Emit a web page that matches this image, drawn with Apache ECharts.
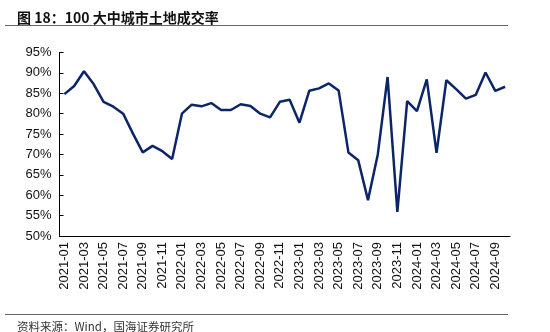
<!DOCTYPE html>
<html>
<head>
<meta charset="utf-8">
<script src="https://cdn.jsdelivr.net/npm/echarts@6/dist/echarts.min.js"></script>
<style>html,body{margin:0;padding:0;background:#fff;}#c{width:550px;height:332px;}</style>
</head>
<body>
<div id="c"></div>
<script>
const months = [];
for (let y = 2021; y <= 2024; y++) {
  for (let m = 1; m <= 12; m++) {
    if (y === 2024 && m > 10) break;
    months.push(y + '-' + (m < 10 ? '0' + m : '' + m));
  }
}
const dealRate = [
  84.8, 86.8, 90.4, 87.2, 82.9, 81.7, 80.0, 75.1, 70.5, 72.1, 70.8, 68.9,
  80.0, 82.2, 81.8, 82.6, 80.9, 80.9, 82.3, 81.9, 80.0, 79.1, 82.9, 83.4,
  77.8, 85.6, 86.2, 87.4, 85.7, 70.5, 68.6, 58.8, 70.0, 89.0, 55.9, 83.1,
  80.6, 88.4, 70.4, 88.2, 86.0, 83.7, 84.6, 90.1, 85.6, 86.6
];
const yMin = 50, yMax = 95, yStep = 5;
const titleText = '图 18：100 大中城市土地成交率';
const sourceText = '资料来源：Wind，国海证券研究所';

const chart = echarts.init(document.getElementById('c'), null, {renderer: 'canvas'});
chart.setOption({
  animation: false,
  backgroundColor: '#ffffff',
  title: [
    {text: titleText, left: 12, top: 6,
     textStyle: {fontFamily: '"Noto Sans CJK SC", sans-serif', fontSize: 14, fontWeight: 'bold', color: '#111'}},
    {text: sourceText, left: 12, top: 316,
     textStyle: {fontFamily: '"Noto Sans CJK SC", sans-serif', fontSize: 11.5, fontWeight: 'normal', color: '#333'}}
  ],
  graphic: [
    {type: 'line', shape: {x1: 5, y1: 25.5, x2: 508, y2: 25.5}, style: {stroke: '#666', lineWidth: 1}},
    {type: 'line', shape: {x1: 5, y1: 314.5, x2: 508, y2: 314.5}, style: {stroke: '#666', lineWidth: 1}}
  ],
  grid: {left: 59.5, right: 40, top: 52.5, bottom: 96, containLabel: false},
  xAxis: {
    type: 'category',
    data: months,
    boundaryGap: true,
    axisLine: {lineStyle: {color: '#000', width: 1}},
    axisTick: {inside: true, length: 4, interval: 1, lineStyle: {color: '#000'}},
    axisLabel: {interval: 1, rotate: 90, fontFamily: 'Liberation Sans, Arial, sans-serif', fontSize: 13, color: '#111', margin: 6},
    splitLine: {show: false}
  },
  yAxis: {
    type: 'value',
    min: yMin, max: yMax, interval: yStep,
    axisLine: {show: true, lineStyle: {color: '#000', width: 1}},
    axisTick: {show: true, inside: true, length: 4, lineStyle: {color: '#000'}},
    axisLabel: {formatter: '{value}%', fontFamily: 'Liberation Sans, Arial, sans-serif', fontSize: 13, color: '#111', margin: 8},
    splitLine: {show: false}
  },
  series: [{
    type: 'line',
    data: dealRate,
    symbol: 'none',
    lineStyle: {color: '#0b2566', width: 2.5},
    itemStyle: {color: '#0b2566'}
  }]
});
</script>
</body>
</html>
